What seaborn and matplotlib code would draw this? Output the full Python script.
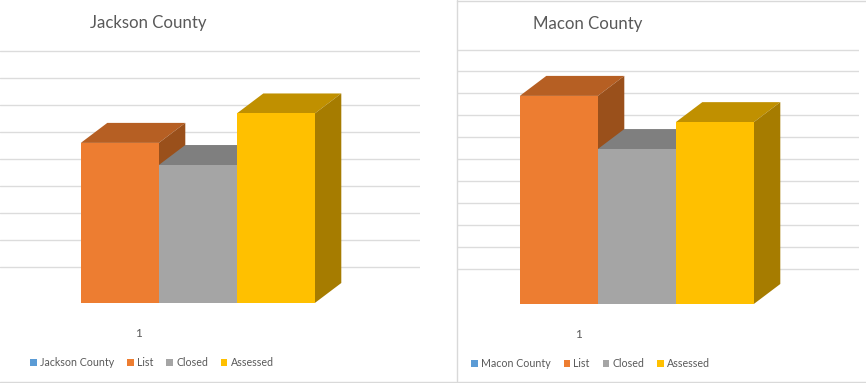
import matplotlib
matplotlib.use('Agg')
import matplotlib.pyplot as plt
import seaborn as sns
from matplotlib.lines import Line2D
from matplotlib.patches import Patch, Polygon

categories = ['List', 'Closed', 'Assessed']
jackson_values = [5.93, 5.11, 7.02]
macon_values = [9.59, 7.14, 8.38]
jackson_grid = [1.32, 2.32, 3.32, 4.32, 5.32, 6.32, 7.32, 8.32, 9.32]
macon_grid = [1.63, 2.64, 3.66, 4.67, 5.67, 6.67, 7.69, 8.70, 9.71, 10.73, 11.72]

W, H = 866, 383
blue = '#5B9BD5'
front = ['#ED7D31', '#A5A5A5', '#FFC000']
top = ['#B65F23', '#7F7F7F', '#C09000']
side = ['#9A501B', '#6B6B6B', '#A67C00']
text_col = '#595959'

sns.set_theme(style='white')
plt.rcParams['font.family'] = ['Lato', 'DejaVu Sans']

fig = plt.figure(figsize=(W / 100, H / 100), dpi=100)


def draw_panel(name, values, grid, x0, x1, bar_left, base, unit, title_x, title_y, one_x, one_y, leg_x, leg_y):
    y_top = 40
    ax = fig.add_axes([x0 / W, 1 - base / H, (x1 - x0) / W, (base - y_top) / H])
    sns.barplot(x=categories, y=values, hue=categories, order=categories, palette=front,
                width=1, saturation=1, linewidth=0, legend=False, ax=ax)
    ax.set_xlim(-0.5 - (bar_left - x0) / 78, 2.5 + (x1 - bar_left - 234) / 78)
    ax.set_ylim(0, (base - y_top) / unit)
    ax.set_xticks([])
    ax.set_yticks(grid)
    ax.set_yticklabels([])
    ax.tick_params(length=0)
    ax.grid(axis='y', color='#dcdcdc', lw=1.0)
    ax.set_axisbelow(True)
    sns.despine(ax=ax, left=True, bottom=True)
    ax.patch.set_alpha(0)

    # the 3d look: top and side faces pushed back from each bar
    dx = 26.5 / 78
    dy = 20 / unit
    for i, v in enumerate(values):
        l, r = i - 0.5, i + 0.5
        ax.add_patch(Polygon([(l, v), (r, v), (r + dx, v + dy), (l + dx, v + dy)],
                             fc=top[i], ec='none', zorder=3 + i * 2, clip_on=False))
        ax.add_patch(Polygon([(r, 0), (r + dx, dy), (r + dx, v + dy), (r, v)],
                             fc=side[i], ec='none', zorder=3 + i * 2, clip_on=False))
        ax.patches[i].set_zorder(4 + i * 2)

    fig.text(title_x / W, 1 - title_y / H, name, color=text_col, fontsize=12.1, ha='left', va='center')
    fig.text(one_x / W, 1 - one_y / H, '1', color=text_col, fontsize=8.5, ha='center', va='center')

    handles = [Patch(fc=c, ec='none') for c in [blue] + front]
    labels = [name] + categories
    fig.legend(handles, labels, ncol=4, loc='center left', bbox_to_anchor=(leg_x / W, 1 - leg_y / H),
               frameon=False, fontsize=7.7, labelcolor=text_col, borderpad=0, borderaxespad=0,
               handlelength=0.62, handleheight=0.62, handletextpad=0.3, columnspacing=1.21)


draw_panel('Jackson County', jackson_values, jackson_grid, 0, 420, 80.8, 303, 27.0, 90, 23, 139, 333.5, 30, 362.5)
draw_panel('Macon County', macon_values, macon_grid, 457, 859, 519.8, 304, 21.7, 533, 24, 578, 334.5, 471, 363.5)

# screenshot frame round the right chart
border = '#d9d9d9'
fig.add_artist(Line2D([456.5 / W, 456.5 / W], [1 - 381 / H, 1], color=border, lw=1.0))
fig.add_artist(Line2D([456.5 / W, 1], [1 - 0.7 / H, 1 - 0.7 / H], color=border, lw=1.0))
fig.add_artist(Line2D([0, 1], [1 - 381.5 / H, 1 - 381.5 / H], color=border, lw=1.0))

fig.savefig('out.png', dpi=100)
